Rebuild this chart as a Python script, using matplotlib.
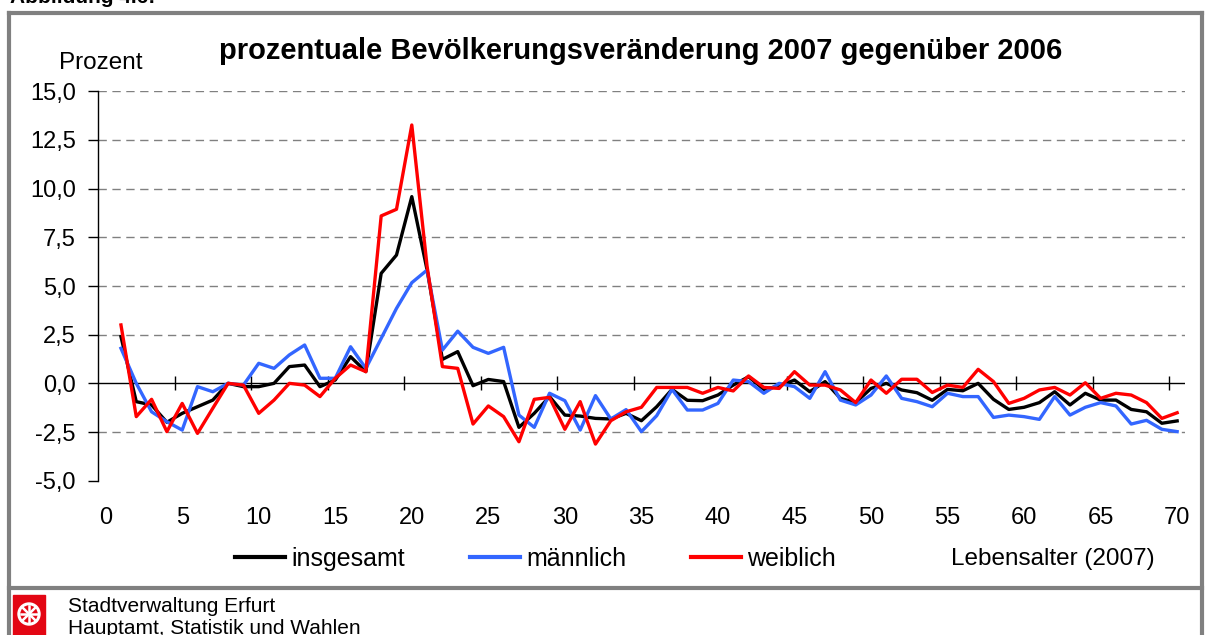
import matplotlib
matplotlib.use("Agg")
import matplotlib.pyplot as plt
from matplotlib.lines import Line2D
from matplotlib.patches import Rectangle, Ellipse
import numpy as np

plt.rcParams["font.family"] = ["Liberation Sans", "DejaVu Sans"]

# Lebensalter 1..70
alter = list(range(1, 71))
insgesamt = [2.4, -0.94, -1.11, -2.0, -1.54, -1.2, -0.86, 0.0, -0.17, -0.17,
             0.0, 0.86, 0.94, -0.17, 0.17, 1.37, 0.6, 5.65, 6.59, 9.59,
             5.82, 1.23, 1.63, -0.12, 0.2, 0.09, -2.26, -1.54, -0.68, -1.63,
             -1.68, -1.8, -1.83, -1.54, -1.92, -1.2, -0.31, -0.87, -0.89, -0.6,
             -0.09, 0.34, -0.31, -0.14, 0.17, -0.43, 0.09, -0.77, -0.99, -0.26,
             0.0, -0.34, -0.48, -0.87, -0.31, -0.38, 0.0, -0.82, -1.34, -1.23,
             -0.99, -0.43, -1.11, -0.51, -0.86, -0.86, -1.34, -1.46, -2.05, -1.93]
maennlich = [1.8, 0.0, -1.46, -1.97, -2.4, -0.17, -0.43, 0.0, -0.09, 1.03,
             0.77, 1.46, 1.97, 0.26, 0.26, 1.88, 0.77, 2.31, 3.85, 5.17,
             5.82, 1.71, 2.68, 1.85, 1.54, 1.85, -1.63, -2.26, -0.51, -0.89,
             -2.4, -0.63, -1.83, -1.35, -2.48, -1.66, -0.31, -1.37, -1.37, -1.03,
             0.17, 0.09, -0.51, 0.0, -0.17, -0.77, 0.6, -0.86, -1.11, -0.6,
             0.38, -0.77, -0.94, -1.2, -0.51, -0.68, -0.68, -1.75, -1.63, -1.71,
             -1.85, -0.68, -1.63, -1.23, -0.99, -1.16, -2.09, -1.9, -2.36, -2.48]
weiblich = [3.0, -1.71, -0.82, -2.48, -1.03, -2.57, -1.28, 0.0, -0.09, -1.54,
            -0.86, 0.0, -0.09, -0.68, 0.26, 0.94, 0.6, 8.6, 8.94, 13.27,
            6.0, 0.86, 0.77, -2.09, -1.16, -1.71, -3.0, -0.82, -0.72, -2.36,
            -0.94, -3.12, -1.92, -1.46, -1.23, -0.21, -0.21, -0.21, -0.51, -0.21,
            -0.39, 0.38, -0.21, -0.26, 0.6, -0.09, -0.09, -0.34, -0.99, 0.17,
            -0.51, 0.21, 0.21, -0.47, -0.09, -0.21, 0.72, 0.09, -1.03, -0.77,
            -0.34, -0.21, -0.6, 0.03, -0.77, -0.51, -0.6, -0.99, -1.8, -1.51]

x_ticks = list(range(0, 71, 5))
y_ticks = [-5.0, -2.5, 0.0, 2.5, 5.0, 7.5, 10.0, 12.5, 15.0]

SCHWARZ = "#000000"
BLAU = "#3366ff"
ROT = "#ff0000"
GRAU = "#808080"
WAPPENROT = "#e30613"

W, H = 1206, 635
fig = plt.figure(figsize=(W / 100, H / 100), dpi=100)


def px(x, y):
    return x / W, 1 - y / H


# Plotbereich
left, top = px(98, 91.3)
right, bottom = px(1184.8, 480.7)
ax = fig.add_axes([left, bottom, right - left, top - bottom])
ax.set_xlim(-0.5, 70.5)
ax.set_ylim(-5, 15)

for v in y_ticks:
    if v not in (0.0, -5.0):
        ax.axhline(v, color=GRAU, lw=1, ls=(0, (6, 4)), zorder=1)
ax.axhline(0, color=SCHWARZ, lw=1, zorder=2)
ax.vlines(np.arange(4.5, 70, 5), -0.36, 0.36, color=SCHWARZ, lw=1, zorder=2)

ax.plot(alter, insgesamt, color=SCHWARZ, lw=2.4, zorder=3)
ax.plot(alter, maennlich, color=BLAU, lw=2.4, zorder=4)
ax.plot(alter, weiblich, color=ROT, lw=2.4, zorder=5)

for s in ["top", "right", "bottom"]:
    ax.spines[s].set_visible(False)
ax.spines["left"].set_linewidth(1)

ax.set_xticks(x_ticks)
ax.set_xticklabels([str(t) for t in x_ticks], fontsize=17)
ax.tick_params(axis="x", length=0, pad=19)
ax.set_yticks(y_ticks)
ax.set_yticklabels([f"{v:.1f}".replace(".", ",") for v in y_ticks], fontsize=17)
ax.tick_params(axis="y", length=7, width=1, pad=9)

# Titel und Achsentexte
fig.text(*px(641, 51), "prozentuale Bevölkerungsveränderung 2007 gegenüber 2006",
         ha="center", va="center", fontsize=21, fontweight="bold")
fig.text(*px(101, 63), "Prozent", ha="center", va="center", fontsize=17.5)
fig.text(*px(951, 559), "Lebensalter (2007)", ha="left", va="center", fontsize=17.5)
fig.text(*px(10, 3), "Abbildung 4.6:", ha="left", va="baseline",
         fontsize=15, fontweight="bold")

# Legende
griffe = [Line2D([], [], color=c, lw=3) for c in (SCHWARZ, BLAU, ROT)]
fig.legend(griffe, ["insgesamt", "männlich", "weiblich"], ncol=3,
           loc="center left", bbox_to_anchor=px(235, 559), frameon=False,
           fontsize=18, handlelength=2.0, handletextpad=0.25,
           columnspacing=2.6, borderpad=0, borderaxespad=0)

# Rahmen
rk = dict(color=GRAU, lw=3, transform=fig.transFigure)
fig.add_artist(Line2D([9 / W, 1202 / W], [1 - 13 / H] * 2, **rk))
fig.add_artist(Line2D([9 / W, 1202 / W], [1 - 588 / H] * 2, **rk))
fig.add_artist(Line2D([9 / W] * 2, [1 - 13 / H, 0], **rk))
fig.add_artist(Line2D([1202 / W] * 2, [1 - 13 / H, 0], **rk))

# Wappen
fig.add_artist(Rectangle(px(13, 635), 32 / W, 40 / H, color=WAPPENROT,
                         transform=fig.transFigure))
cx, cy = px(29, 614)
fig.add_artist(Ellipse((cx, cy), 22 / W, 22 / H, color="white",
                       transform=fig.transFigure))
fig.add_artist(Ellipse((cx, cy), 16 / W, 16 / H, color=WAPPENROT,
                       transform=fig.transFigure))
for a in np.arange(0, 180, 45):
    r = np.deg2rad(a)
    fig.add_artist(Line2D([cx - 8 * np.cos(r) / W, cx + 8 * np.cos(r) / W],
                          [cy - 8 * np.sin(r) / H, cy + 8 * np.sin(r) / H],
                          color="white", lw=1.8, transform=fig.transFigure))

fig.text(*px(68, 606), "Stadtverwaltung Erfurt", ha="left", va="center", fontsize=15)
fig.text(*px(68, 629), "Hauptamt, Statistik und Wahlen", ha="left", va="center",
         fontsize=15)

fig.savefig("out.png", dpi=100)
